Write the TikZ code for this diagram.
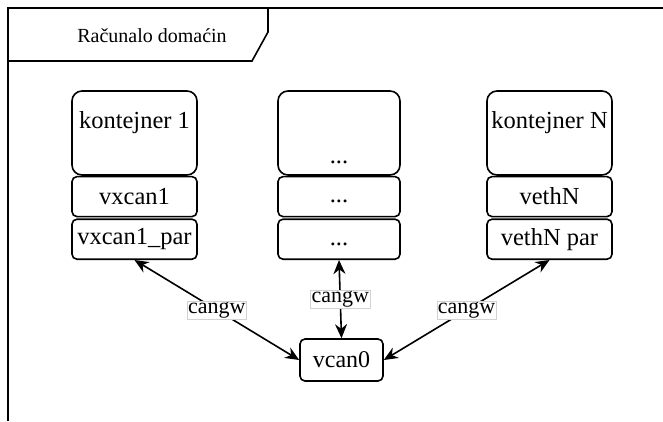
\documentclass[tikz,border=0pt]{standalone}
\usepackage{fontspec}
\setmainfont{Liberation Serif}
\usetikzlibrary{positioning,arrows.meta}
\newcommand{\trdots}{\raisebox{-5pt}[\height][\depth]{...}}

\begin{document}
\begin{tikzpicture}[x=1pt, y=-1pt, line width=1.6pt,
    topbox/.style={draw, rounded corners=10pt, minimum width=125pt, minimum height=84pt},
    ifbox/.style={draw, rounded corners=5pt, minimum width=125pt, minimum height=40pt, inner sep=0pt},
    txt/.style={font=\fontsize{24.5}{26}\selectfont},
    link/.style={{Stealth[length=14pt,width=12pt]}-{Stealth[length=14pt,width=12pt]}, line width=1.6pt},
    lbl/.style={fill=white, draw=gray!35, line width=0.6pt, inner sep=1pt, font=\fontsize{22}{24}\selectfont}]
    \useasboundingbox (0,0) rectangle (663,421);

    % Host frame
    \draw (8,421) -- (8,8) -- (663,8);
    \draw (8,61) -- (252,61) -- (268,32) -- (268,8);
    \node[font=\fontsize{20}{22}\selectfont] (host) at (152,36) {Računalo domaćin};

    % Containers
    \foreach \i/\x/\w/\head/\dy/\a/\b in {1/134.5/125/kontejner 1/10/vxcan1/vxcan1\_par,
                                          2/339/122/\trdots/-24/\trdots/\trdots,
                                          3/549.5/125/kontejner N/10/vethN/vethN par} {
        \node[topbox, minimum width=\w] (top\i) at (\x,133) {};
        \node[txt] (head\i) at ([yshift=\dy]top\i.center) {\head};
        \node[ifbox, txt, minimum width=\w, below=0pt of top\i] (if\i) {\a};
        \node[ifbox, txt, minimum width=\w, below=1pt of if\i] (par\i) {\b};
    }

    % Bridge
    \node[draw, rounded corners=5pt, font=\fontsize{24}{26}\selectfont, minimum width=83pt, minimum height=42pt, inner sep=0pt] (vcan) at (341.5,360) {vcan0};

    \draw[link] (par1.south) -- node[lbl] (gw1) {cangw} (vcan.west);
    \draw[link] (par2.south) -- node[lbl] (gw2) {cangw} (vcan.north);
    \draw[link] (par3.south) -- node[lbl] (gw3) {cangw} (vcan.east);
\end{tikzpicture}
\end{document}
